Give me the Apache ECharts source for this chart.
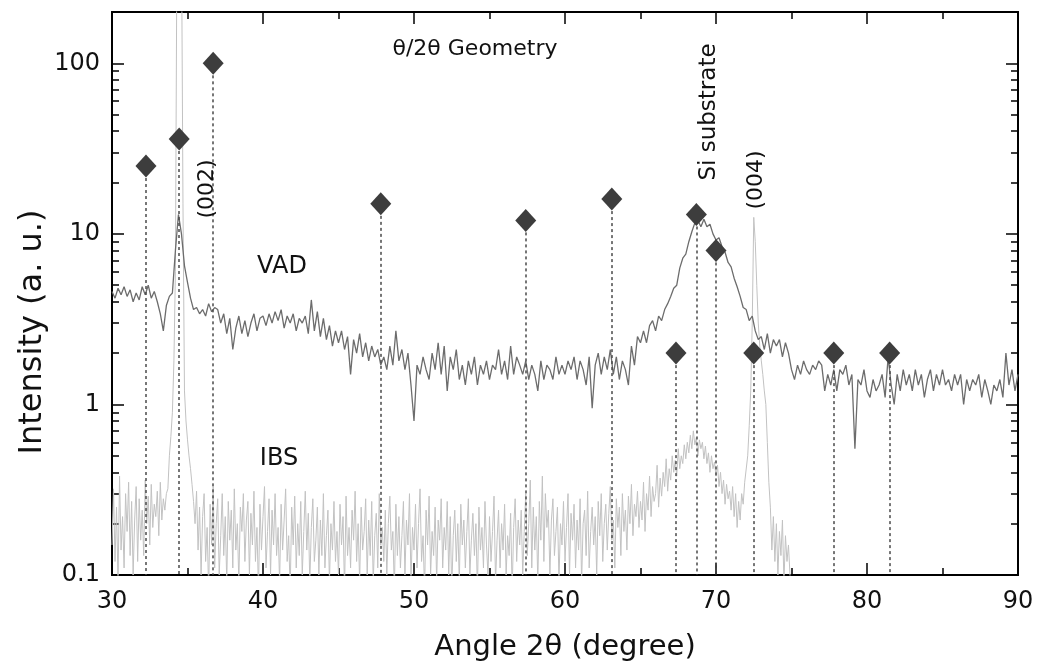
<!DOCTYPE html>
<html>
<head>
<meta charset="utf-8">
<script src="https://cdn.jsdelivr.net/npm/echarts@6/dist/echarts.min.js"></script>
<style>
html,body{margin:0;padding:0;background:#fff;}
#chart{width:1041px;height:667px;}
</style>
</head>
<body>
<div id="chart"></div>
<script>
// ---- data ----
const vadStart = 30, vadStep = 0.2;
const vadValues = [
4.6,4.2,4.8,4.4,4.9, 4.3,4.7,4.0,4.5,4.1, 4.9,4.4,5.0,4.2,4.6, 4.0,3.4,2.7,3.8,4.3,
4.5,8.0,13,10,6.5, 5.2,4.2,3.6,3.7,3.4, 3.6,3.3,3.9,3.5,3.7, 3.6,3.0,3.4,2.6,3.2,
2.1,2.8,3.3,2.6,3.1, 2.5,3.0,3.4,2.7,3.2, 3.3,2.9,3.4,3.0,3.5, 3.1,3.6,2.8,3.3,3.0,
3.4,2.7,3.2,3.0,3.3, 2.6,4.1,2.7,3.5,2.5, 3.2,2.4,2.9,2.2,2.7, 2.3,2.7,2.1,2.5,1.5,
2.4,2.0,2.6,1.9,2.3, 1.8,2.2,1.9,2.1,1.7, 1.9,1.6,2.2,1.7,2.7, 1.8,2.1,1.6,2.0,1.3,
0.8,1.7,1.5,1.9,1.6, 1.4,2.0,1.6,2.3,1.5, 2.2,1.2,1.9,1.6,2.1, 1.4,1.7,1.3,1.8,1.5,
1.9,1.3,1.7,1.5,1.8, 1.4,1.7,1.6,2.1,1.5, 1.8,1.4,2.2,1.5,1.9, 1.7,1.5,1.8,1.4,1.7,
1.5,1.2,1.8,1.4,1.7, 1.6,1.4,1.9,1.5,1.7, 1.5,1.8,1.6,1.9,1.4, 1.8,1.6,1.3,1.9,0.95,
1.7,2.0,1.5,1.9,1.6, 2.1,1.5,1.9,1.4,1.8, 1.6,1.3,2.2,1.7,2.5, 2.3,2.7,2.3,2.9,3.1,
2.7,3.3,3.1,3.6,3.9, 4.3,4.8,5.0,6.3,7.2, 7.6,9.0,10.3,11.6,12.0, 11.0,12.2,11.0,11.4,10.0,
9.2,9.5,8.4,7.8,6.8, 6.4,5.5,4.9,4.3,3.7, 3.6,3.1,3.3,2.7,2.4, 2.5,2.1,2.6,2.0,2.4,
2.2,2.4,1.9,2.3,2.0, 1.6,1.4,1.7,1.5,1.8, 1.6,1.5,1.7,1.6,1.8, 1.7,1.2,1.5,1.3,1.6,
1.2,1.6,1.5,1.7,1.3, 1.5,0.55,1.4,1.3,1.6, 1.2,1.1,1.4,1.2,1.3, 1.5,1.1,1.9,1.3,1.0,
1.5,1.2,1.6,1.3,1.5, 1.2,1.6,1.3,1.5,1.1, 1.4,1.6,1.2,1.5,1.3, 1.6,1.3,1.4,1.2,1.5,
1.3,1.5,1.0,1.4,1.2, 1.4,1.3,1.5,1.1,1.4, 1.2,1.0,1.3,1.2,1.4, 1.1,2.0,1.3,1.6,1.2,
1.5
];
const ibsStart = 30, ibsStep = 0.1;
const ibsValues = [
0.15,0.32,0.12,0.25,0.09,0.38,0.14,0.22,0.11,0.3,
0.18,0.35,0.13,0.27,0.1,0.21,0.33,0.12,0.28,0.16,
0.24,0.13,0.36,0.2,0.29,0.15,0.34,0.19,0.26,0.22,
0.31,0.17,0.35,0.21,0.28,0.24,0.3,0.32,0.5,0.65,
0.9,1.8,6,500,2000,2000,600,15,1.2,0.8,
0.62,0.5,0.42,0.34,0.27,0.2,0.31,0.14,0.25,0.1,
0.22,0.3,0.12,0.19,0.08,0.26,0.15,0.33,0.11,0.2,
0.28,0.1,0.17,0.3,0.13,0.22,0.09,0.27,0.16,0.24,
0.11,0.32,0.14,0.2,0.09,0.25,0.18,0.3,0.12,0.21,
0.27,0.1,0.23,0.15,0.31,0.12,0.19,0.08,0.26,0.14,
0.22,0.33,0.11,0.18,0.28,0.1,0.24,0.15,0.3,0.13,
0.19,0.09,0.26,0.14,0.21,0.32,0.12,0.17,0.08,0.25,
0.15,0.29,0.11,0.2,0.13,0.27,0.1,0.18,0.31,0.14,
0.23,0.09,0.19,0.28,0.12,0.16,0.25,0.1,0.21,0.13,
0.3,0.11,0.17,0.24,0.09,0.2,0.14,0.27,0.12,0.18,
0.1,0.26,0.15,0.22,0.08,0.29,0.13,0.19,0.11,0.24,
0.16,0.31,0.12,0.2,0.09,0.25,0.14,0.18,0.28,0.1,
0.21,0.13,0.27,0.09,0.17,0.23,0.11,0.3,0.15,0.19,
0.12,0.24,0.1,0.2,0.29,0.14,0.18,0.08,0.26,0.13,
0.22,0.11,0.17,0.27,0.1,0.21,0.15,0.3,0.09,0.19,
0.14,0.26,0.11,0.2,0.32,0.12,0.17,0.08,0.24,0.15,
0.29,0.1,0.18,0.13,0.25,0.09,0.21,0.16,0.28,0.11,
0.19,0.14,0.27,0.1,0.22,0.08,0.17,0.24,0.12,0.2,
0.09,0.26,0.15,0.21,0.11,0.18,0.28,0.1,0.16,0.23,
0.13,0.2,0.08,0.25,0.14,0.19,0.11,0.27,0.15,0.1,
0.22,0.12,0.18,0.29,0.09,0.16,0.24,0.11,0.2,0.14,
0.26,0.1,0.17,0.13,0.23,0.08,0.19,0.28,0.12,0.21,
0.15,0.24,0.1,0.18,0.3,0.13,0.2,0.36,0.11,0.25,
0.14,0.22,0.09,0.27,0.16,0.38,0.12,0.3,0.19,0.24,
0.1,0.21,0.28,0.13,0.18,0.25,0.09,0.2,0.15,0.27,
0.12,0.19,0.3,0.1,0.23,0.16,0.26,0.11,0.21,0.14,
0.28,0.09,0.2,0.24,0.13,0.31,0.11,0.18,0.25,0.15,
0.22,0.1,0.27,0.17,0.3,0.12,0.2,0.26,0.14,0.23,
0.33,0.16,0.21,0.11,0.28,0.19,0.25,0.13,0.3,0.18,
0.24,0.14,0.29,0.2,0.34,0.17,0.26,0.22,0.31,0.19,
0.27,0.21,0.35,0.18,0.3,0.24,0.38,0.22,0.33,0.27,
0.3,0.44,0.25,0.37,0.29,0.4,0.33,0.48,0.31,0.42,
0.36,0.5,0.4,0.47,0.38,0.55,0.42,0.5,0.45,0.58,
0.48,0.6,0.52,0.66,0.55,0.7,0.58,0.64,0.5,0.62,
0.55,0.6,0.48,0.57,0.45,0.52,0.4,0.5,0.42,0.46,
0.38,0.44,0.33,0.4,0.3,0.36,0.26,0.34,0.28,0.31,
0.24,0.33,0.22,0.3,0.19,0.27,0.21,0.3,0.26,0.35,
0.35,0.5,0.75,1.2,3,12.5,9,5,3,2.2,
1.8,1.5,1.2,1.0,0.6,0.35,0.25,0.14,0.22,0.12,
0.2,0.1,0.18,0.13,0.21,0.09,0.17,0.12,0.15,0.1,
0.08
];
const peakAngles  = [32.25, 34.45, 36.7, 47.8, 57.4, 63.1, 67.35, 68.7, 70.0, 72.5, 77.8, 81.5];
const peakHeights = [25, 36, 100, 15, 12, 16, 2, 13, 8, 2, 2, 2];
const xTicks = [30, 40, 50, 60, 70, 80, 90];
const yMajorTicks = [0.1, 1, 10, 100];
const yMinorTicks = [0.2,0.3,0.4,0.5,0.6,0.7,0.8,0.9,2,3,4,5,6,7,8,9,20,30,40,50,60,70,80,90,200];

// ---- build ----
const vadData = vadValues.map((v, i) => [+(vadStart + i * vadStep).toFixed(2), v]);
const ibsData = ibsValues.map((v, i) => [+(ibsStart + i * ibsStep).toFixed(2), v]);
const peakData = peakAngles.map((a, i) => [a, peakHeights[i]]);

const FONT = '"DejaVu Sans", Verdana, sans-serif';
const yMin = 0.1, yMax = 200;

function yAxisDef(pos, ticks, len, labels) {
  return {
    type: 'log', logBase: 10, min: yMin, max: yMax, position: pos,
    axisLine: { show: true, onZero: false, lineStyle: { color: '#000', width: 2 } },
    axisTick: { show: true, inside: true, length: len, customValues: ticks, lineStyle: { color: '#000', width: 1.5 } },
    axisLabel: labels ? {
      show: true, customValues: yMajorTicks, fontSize: 24, fontFamily: FONT, color: '#111', margin: 12,
      formatter: v => (v < 0.5 ? '0.1' : String(Math.round(v)))
    } : { show: false },
    splitLine: { show: false }, minorTick: { show: false }, minorSplitLine: { show: false }
  };
}

const chart = echarts.init(document.getElementById('chart'), null, { renderer: 'canvas' });
chart.setOption({
  animation: false,
  backgroundColor: '#fff',
  grid: { left: 112, right: 23, top: 12, bottom: 90, containLabel: false },
  xAxis: [
    {
      type: 'value', min: 30, max: 90, interval: 10, position: 'bottom',
      name: 'Angle 2θ (degree)', nameLocation: 'middle', nameGap: 58,
      nameTextStyle: { fontSize: 29, fontFamily: FONT, color: '#111' },
      axisLine: { onZero: false, lineStyle: { color: '#000', width: 2 } },
      axisTick: { inside: true, length: 12, lineStyle: { color: '#000', width: 1.5 } },
      minorTick: { show: true, splitNumber: 2, length: 7, lineStyle: { color: '#000', width: 1.5 } },
      axisLabel: { fontSize: 24, fontFamily: FONT, color: '#111', margin: 15 },
      splitLine: { show: false }
    },
    {
      type: 'value', min: 30, max: 90, interval: 10, position: 'top',
      axisLine: { onZero: false, lineStyle: { color: '#000', width: 2 } },
      axisTick: { inside: true, length: 12, lineStyle: { color: '#000', width: 1.5 } },
      minorTick: { show: true, splitNumber: 2, length: 7, lineStyle: { color: '#000', width: 1.5 } },
      axisLabel: { show: false },
      splitLine: { show: false }
    }
  ],
  yAxis: [
    yAxisDef('left', yMajorTicks, 12, true),
    yAxisDef('right', yMajorTicks, 12, false),
    yAxisDef('left', yMinorTicks, 7, false),
    yAxisDef('right', yMinorTicks, 7, false)
  ],
  series: [
    {
      name: 'IBS', type: 'line', data: ibsData, xAxisIndex: 0, yAxisIndex: 0,
      showSymbol: false, symbol: 'none', clip: true,
      lineStyle: { color: '#c2c2c2', width: 1 }, z: 2
    },
    {
      name: 'VAD', type: 'line', data: vadData, xAxisIndex: 0, yAxisIndex: 0,
      showSymbol: false, symbol: 'none', clip: true,
      lineStyle: { color: '#6c6c6c', width: 1.3 }, z: 3
    },
    {
      name: 'drops', type: 'scatter', data: [], xAxisIndex: 0, yAxisIndex: 0,
      markLine: {
        silent: true, symbol: 'none', animation: false,
        label: { show: false },
        lineStyle: { color: '#4a4a4a', width: 1.5, type: [3, 3] },
        data: peakData.map(p => [{ coord: p }, { coord: [p[0], yMin] }])
      },
      z: 4
    },
    {
      name: 'peaks', type: 'scatter', data: peakData, xAxisIndex: 0, yAxisIndex: 0,
      symbol: 'diamond', symbolSize: [21, 23],
      itemStyle: { color: '#3d3d3d', opacity: 1 }, z: 5
    }
  ],
  graphic: [
    { type: 'text', x: 33, y: 332, rotation: Math.PI / 2, z: 10, style: { text: 'Intensity (a. u.)', fontSize: 32, fontFamily: FONT, fill: '#111', align: 'center', verticalAlign: 'middle' } },
    { type: 'text', x: 475, y: 49, z: 10, style: { text: 'θ/2θ Geometry', fontSize: 22, fontFamily: FONT, fill: '#111', align: 'center', verticalAlign: 'middle' } },
    { type: 'text', x: 207, y: 189, rotation: Math.PI / 2, z: 10, style: { text: '(002)', fontSize: 22, fontFamily: FONT, fill: '#111', align: 'center', verticalAlign: 'middle' } },
    { type: 'text', x: 709, y: 112, rotation: Math.PI / 2, z: 10, style: { text: 'Si substrate', fontSize: 23, fontFamily: FONT, fill: '#111', align: 'center', verticalAlign: 'middle' } },
    { type: 'text', x: 756, y: 180, rotation: Math.PI / 2, z: 10, style: { text: '(004)', fontSize: 22, fontFamily: FONT, fill: '#111', align: 'center', verticalAlign: 'middle' } },
    { type: 'text', x: 282, y: 267, z: 10, style: { text: 'VAD', fontSize: 24, fontFamily: FONT, fill: '#111', align: 'center', verticalAlign: 'middle' } },
    { type: 'text', x: 279, y: 459, z: 10, style: { text: 'IBS', fontSize: 24, fontFamily: FONT, fill: '#111', align: 'center', verticalAlign: 'middle' } }
  ]
});
</script>
</body>
</html>
